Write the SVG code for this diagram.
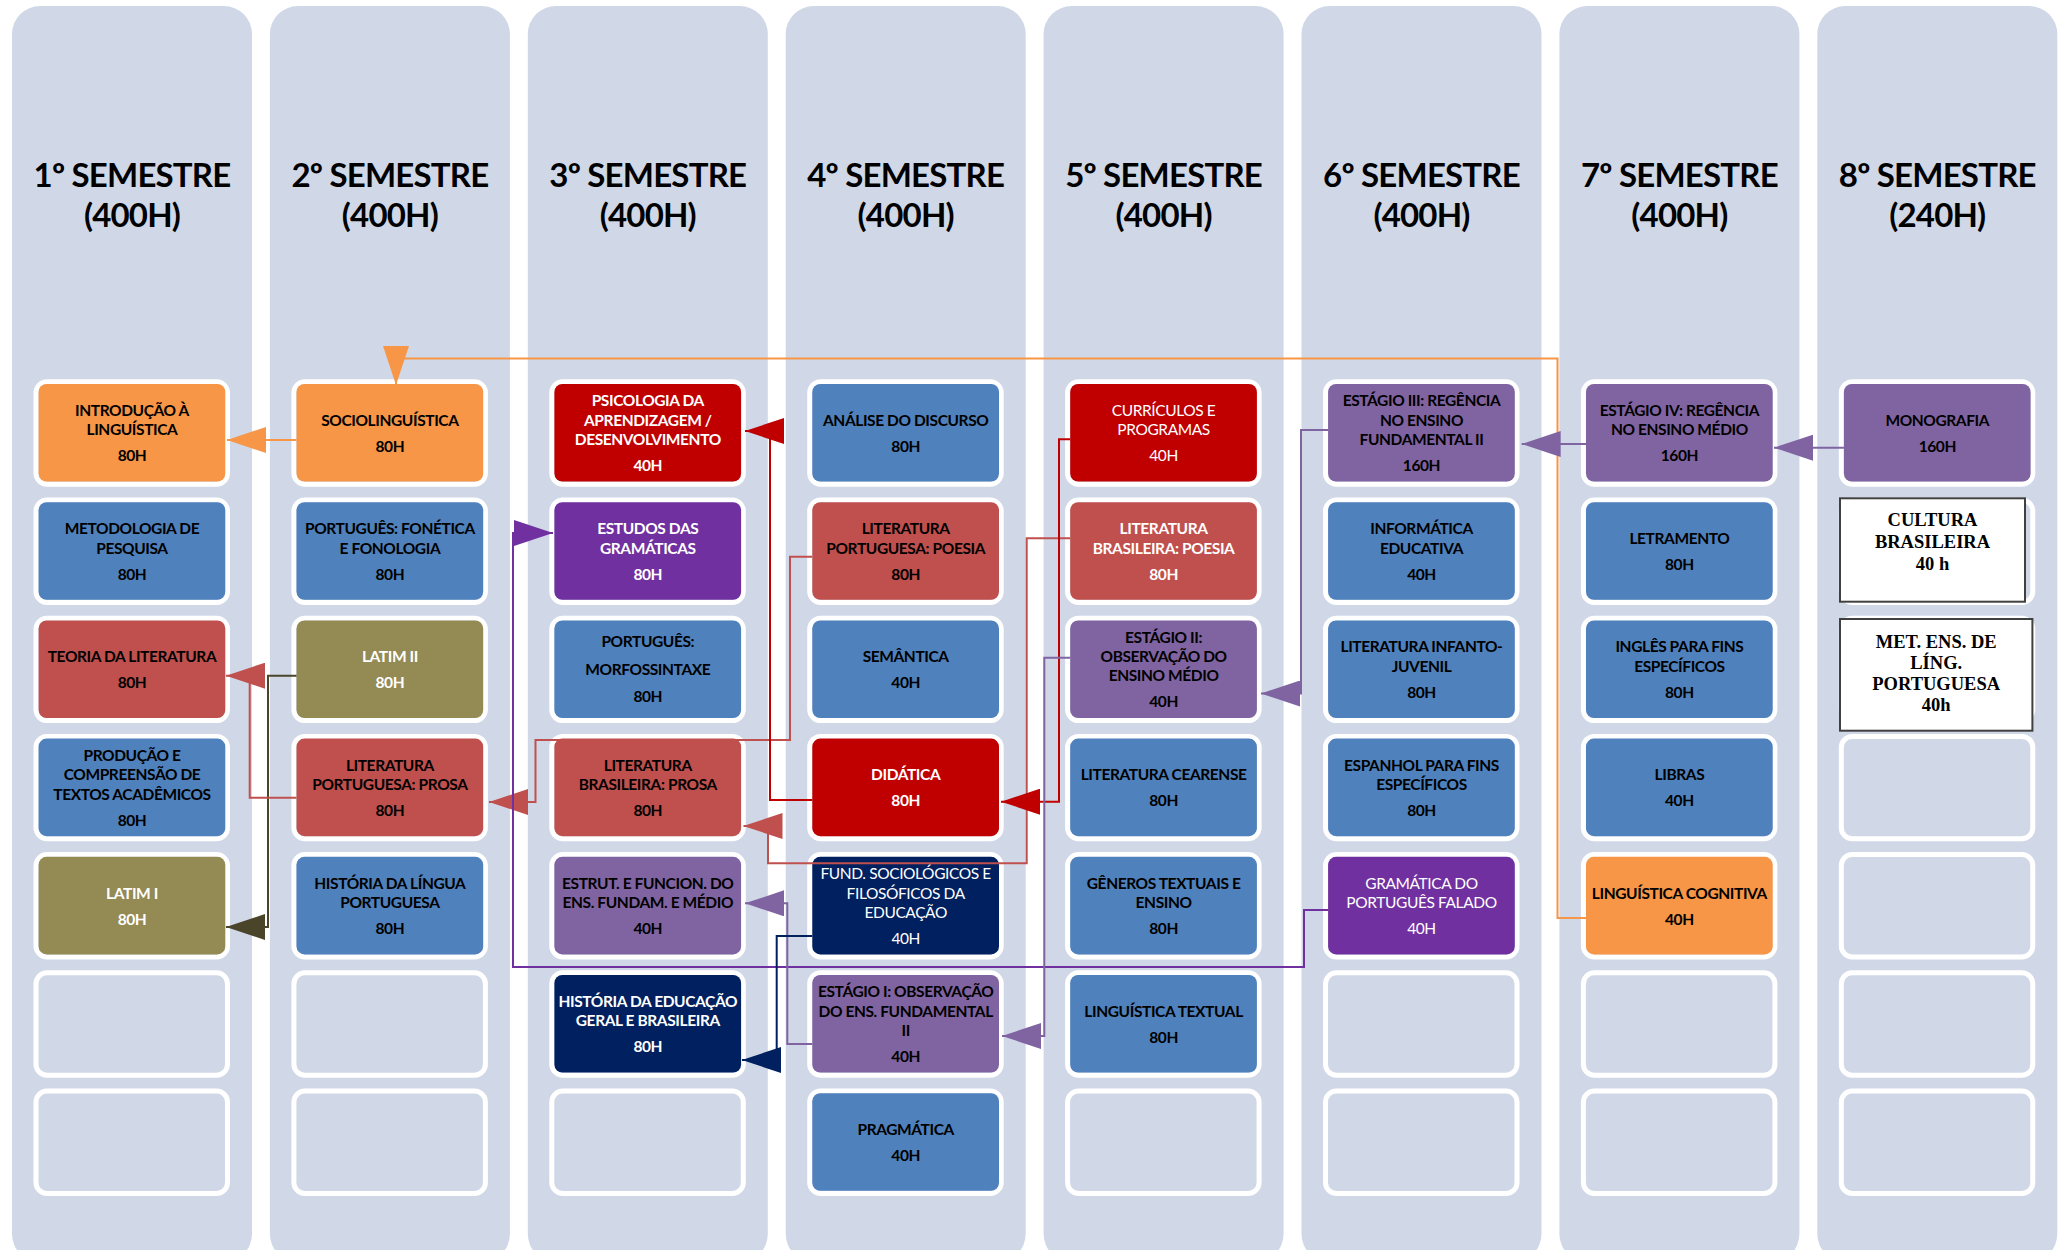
<svg xmlns="http://www.w3.org/2000/svg" width="2060" height="1250" viewBox="0 0 2060 1250">
<style>
.bgc{fill:#D0D8E8}
.fr{fill:none;stroke:#FFFFFF;stroke-width:5}
.hdr{font-family:Lato,"Liberation Sans",sans-serif;font-weight:700;font-size:33px;letter-spacing:-0.8px;text-anchor:middle;fill:#000}
.t{font-family:Lato,"Liberation Sans",sans-serif;font-weight:700;font-size:15.5px;letter-spacing:-0.4px;text-anchor:middle;fill:#000}
.w{fill:#FFFFFF}
.reg{font-weight:400}
.sf{font-family:"Liberation Serif","Times New Roman",serif;font-weight:700;font-size:18.5px;text-anchor:middle;fill:#000}
.or{fill:#F79646}.bl{fill:#4F81BD}.rd{fill:#C0504D}.ol{fill:#948A54}.dr{fill:#C00000}.pu{fill:#7030A0}.lv{fill:#8064A2}.nv{fill:#002060}
.wb{fill:#FFFFFF;stroke:#404040;stroke-width:2}
.c{fill:none;stroke-width:2}
</style>
<defs>
<marker id="a-or" markerUnits="userSpaceOnUse" markerWidth="39" markerHeight="26" viewBox="0 0 39 26" refX="39" refY="13" orient="auto"><path d="M0,0 L39,13 L0,26 z" fill="#F79646"/></marker>
<marker id="a-ol" markerUnits="userSpaceOnUse" markerWidth="39" markerHeight="26" viewBox="0 0 39 26" refX="39" refY="13" orient="auto"><path d="M0,0 L39,13 L0,26 z" fill="#4A452A"/></marker>
<marker id="a-rd" markerUnits="userSpaceOnUse" markerWidth="39" markerHeight="26" viewBox="0 0 39 26" refX="39" refY="13" orient="auto"><path d="M0,0 L39,13 L0,26 z" fill="#C0504D"/></marker>
<marker id="a-dr" markerUnits="userSpaceOnUse" markerWidth="39" markerHeight="26" viewBox="0 0 39 26" refX="39" refY="13" orient="auto"><path d="M0,0 L39,13 L0,26 z" fill="#C00000"/></marker>
<marker id="a-pu" markerUnits="userSpaceOnUse" markerWidth="39" markerHeight="26" viewBox="0 0 39 26" refX="39" refY="13" orient="auto"><path d="M0,0 L39,13 L0,26 z" fill="#7030A0"/></marker>
<marker id="a-lv" markerUnits="userSpaceOnUse" markerWidth="39" markerHeight="26" viewBox="0 0 39 26" refX="39" refY="13" orient="auto"><path d="M0,0 L39,13 L0,26 z" fill="#8064A2"/></marker>
<marker id="a-nv" markerUnits="userSpaceOnUse" markerWidth="39" markerHeight="26" viewBox="0 0 39 26" refX="39" refY="13" orient="auto"><path d="M0,0 L39,13 L0,26 z" fill="#002060"/></marker>
</defs>
<rect width="2060" height="1250" fill="#FFFFFF"/>

<g id="columns">
<g id="col1"><rect class="bgc" x="12" y="6" width="240" height="1256" rx="28"/><text class="hdr"><tspan x="132" y="186.7">1º SEMESTRE</tspan><tspan x="132" y="226.7">(400H)</tspan></text></g>
<g id="col2"><rect class="bgc" x="269.9" y="6" width="240" height="1256" rx="28"/><text class="hdr"><tspan x="389.9" y="186.7">2º SEMESTRE</tspan><tspan x="389.9" y="226.7">(400H)</tspan></text></g>
<g id="col3"><rect class="bgc" x="527.8" y="6" width="240" height="1256" rx="28"/><text class="hdr"><tspan x="647.8" y="186.7">3º SEMESTRE</tspan><tspan x="647.8" y="226.7">(400H)</tspan></text></g>
<g id="col4"><rect class="bgc" x="785.7" y="6" width="240" height="1256" rx="28"/><text class="hdr"><tspan x="905.7" y="186.7">4º SEMESTRE</tspan><tspan x="905.7" y="226.7">(400H)</tspan></text></g>
<g id="col5"><rect class="bgc" x="1043.6" y="6" width="240" height="1256" rx="28"/><text class="hdr"><tspan x="1163.6" y="186.7">5º SEMESTRE</tspan><tspan x="1163.6" y="226.7">(400H)</tspan></text></g>
<g id="col6"><rect class="bgc" x="1301.5" y="6" width="240" height="1256" rx="28"/><text class="hdr"><tspan x="1421.5" y="186.7">6º SEMESTRE</tspan><tspan x="1421.5" y="226.7">(400H)</tspan></text></g>
<g id="col7"><rect class="bgc" x="1559.4" y="6" width="240" height="1256" rx="28"/><text class="hdr"><tspan x="1679.4" y="186.7">7º SEMESTRE</tspan><tspan x="1679.4" y="226.7">(400H)</tspan></text></g>
<g id="col8"><rect class="bgc" x="1817.3" y="6" width="240" height="1256" rx="28"/><text class="hdr"><tspan x="1937.3" y="186.7">8º SEMESTRE</tspan><tspan x="1937.3" y="226.7">(240H)</tspan></text></g>
</g>

<g id="slots">
<g id="slots-c1"><rect class="fr" x="36" y="381.8" width="191.5" height="102.4" rx="11"/><rect class="fr" x="36" y="500" width="191.5" height="102.4" rx="11"/><rect class="fr" x="36" y="618.2" width="191.5" height="102.4" rx="11"/><rect class="fr" x="36" y="736.4" width="191.5" height="102.4" rx="11"/><rect class="fr" x="36" y="854.6" width="191.5" height="102.4" rx="11"/><rect class="fr" x="36" y="972.8" width="191.5" height="102.4" rx="11"/><rect class="fr" x="36" y="1091" width="191.5" height="102.4" rx="11"/></g>
<g id="slots-c2"><rect class="fr" x="293.9" y="381.8" width="191.5" height="102.4" rx="11"/><rect class="fr" x="293.9" y="500" width="191.5" height="102.4" rx="11"/><rect class="fr" x="293.9" y="618.2" width="191.5" height="102.4" rx="11"/><rect class="fr" x="293.9" y="736.4" width="191.5" height="102.4" rx="11"/><rect class="fr" x="293.9" y="854.6" width="191.5" height="102.4" rx="11"/><rect class="fr" x="293.9" y="972.8" width="191.5" height="102.4" rx="11"/><rect class="fr" x="293.9" y="1091" width="191.5" height="102.4" rx="11"/></g>
<g id="slots-c3"><rect class="fr" x="551.8" y="381.8" width="191.5" height="102.4" rx="11"/><rect class="fr" x="551.8" y="500" width="191.5" height="102.4" rx="11"/><rect class="fr" x="551.8" y="618.2" width="191.5" height="102.4" rx="11"/><rect class="fr" x="551.8" y="736.4" width="191.5" height="102.4" rx="11"/><rect class="fr" x="551.8" y="854.6" width="191.5" height="102.4" rx="11"/><rect class="fr" x="551.8" y="972.8" width="191.5" height="102.4" rx="11"/><rect class="fr" x="551.8" y="1091" width="191.5" height="102.4" rx="11"/></g>
<g id="slots-c4"><rect class="fr" x="809.7" y="381.8" width="191.5" height="102.4" rx="11"/><rect class="fr" x="809.7" y="500" width="191.5" height="102.4" rx="11"/><rect class="fr" x="809.7" y="618.2" width="191.5" height="102.4" rx="11"/><rect class="fr" x="809.7" y="736.4" width="191.5" height="102.4" rx="11"/><rect class="fr" x="809.7" y="854.6" width="191.5" height="102.4" rx="11"/><rect class="fr" x="809.7" y="972.8" width="191.5" height="102.4" rx="11"/><rect class="fr" x="809.7" y="1091" width="191.5" height="102.4" rx="11"/></g>
<g id="slots-c5"><rect class="fr" x="1067.6" y="381.8" width="191.5" height="102.4" rx="11"/><rect class="fr" x="1067.6" y="500" width="191.5" height="102.4" rx="11"/><rect class="fr" x="1067.6" y="618.2" width="191.5" height="102.4" rx="11"/><rect class="fr" x="1067.6" y="736.4" width="191.5" height="102.4" rx="11"/><rect class="fr" x="1067.6" y="854.6" width="191.5" height="102.4" rx="11"/><rect class="fr" x="1067.6" y="972.8" width="191.5" height="102.4" rx="11"/><rect class="fr" x="1067.6" y="1091" width="191.5" height="102.4" rx="11"/></g>
<g id="slots-c6"><rect class="fr" x="1325.5" y="381.8" width="191.5" height="102.4" rx="11"/><rect class="fr" x="1325.5" y="500" width="191.5" height="102.4" rx="11"/><rect class="fr" x="1325.5" y="618.2" width="191.5" height="102.4" rx="11"/><rect class="fr" x="1325.5" y="736.4" width="191.5" height="102.4" rx="11"/><rect class="fr" x="1325.5" y="854.6" width="191.5" height="102.4" rx="11"/><rect class="fr" x="1325.5" y="972.8" width="191.5" height="102.4" rx="11"/><rect class="fr" x="1325.5" y="1091" width="191.5" height="102.4" rx="11"/></g>
<g id="slots-c7"><rect class="fr" x="1583.4" y="381.8" width="191.5" height="102.4" rx="11"/><rect class="fr" x="1583.4" y="500" width="191.5" height="102.4" rx="11"/><rect class="fr" x="1583.4" y="618.2" width="191.5" height="102.4" rx="11"/><rect class="fr" x="1583.4" y="736.4" width="191.5" height="102.4" rx="11"/><rect class="fr" x="1583.4" y="854.6" width="191.5" height="102.4" rx="11"/><rect class="fr" x="1583.4" y="972.8" width="191.5" height="102.4" rx="11"/><rect class="fr" x="1583.4" y="1091" width="191.5" height="102.4" rx="11"/></g>
<g id="slots-c8"><rect class="fr" x="1841.3" y="381.8" width="191.5" height="102.4" rx="11"/><rect class="fr" x="1841.3" y="500" width="191.5" height="102.4" rx="11"/><rect class="fr" x="1841.3" y="618.2" width="191.5" height="102.4" rx="11"/><rect class="fr" x="1841.3" y="736.4" width="191.5" height="102.4" rx="11"/><rect class="fr" x="1841.3" y="854.6" width="191.5" height="102.4" rx="11"/><rect class="fr" x="1841.3" y="972.8" width="191.5" height="102.4" rx="11"/><rect class="fr" x="1841.3" y="1091" width="191.5" height="102.4" rx="11"/></g>
</g>

<g id="nodes">
<!-- col 1 -->
<g id="n-intro"><rect class="or" x="38.6" y="384" width="186.7" height="97.6" rx="8"/><text class="t"><tspan x="132" y="416">INTRODUÇÃO À</tspan><tspan x="132" y="435.3">LINGUÍSTICA</tspan><tspan x="132" y="461.3">80H</tspan></text></g>
<g id="n-metodologia"><rect class="bl" x="38.6" y="502.2" width="186.7" height="97.6" rx="8"/><text class="t"><tspan x="132" y="534.2">METODOLOGIA DE</tspan><tspan x="132" y="553.5">PESQUISA</tspan><tspan x="132" y="579.5">80H</tspan></text></g>
<g id="n-teoria"><rect class="rd" x="38.6" y="620.4" width="186.7" height="97.6" rx="8"/><text class="t"><tspan x="132" y="662.1">TEORIA DA LITERATURA</tspan><tspan x="132" y="688.1">80H</tspan></text></g>
<g id="n-producao"><rect class="bl" x="38.6" y="738.6" width="186.7" height="97.6" rx="8"/><text class="t"><tspan x="132" y="761">PRODUÇÃO E</tspan><tspan x="132" y="780.3">COMPREENSÃO DE</tspan><tspan x="132" y="799.6">TEXTOS ACADÊMICOS</tspan><tspan x="132" y="825.6">80H</tspan></text></g>
<g id="n-latim1"><rect class="ol" x="38.6" y="856.8" width="186.7" height="97.6" rx="8"/><text class="t w"><tspan x="132" y="898.5">LATIM I</tspan><tspan x="132" y="924.5">80H</tspan></text></g>
<!-- col 2 -->
<g id="n-socio"><rect class="or" x="296.5" y="384" width="186.7" height="97.6" rx="8"/><text class="t"><tspan x="389.9" y="425.7">SOCIOLINGUÍSTICA</tspan><tspan x="389.9" y="451.7">80H</tspan></text></g>
<g id="n-fonetica"><rect class="bl" x="296.5" y="502.2" width="186.7" height="97.6" rx="8"/><text class="t"><tspan x="389.9" y="534.2">PORTUGUÊS: FONÉTICA</tspan><tspan x="389.9" y="553.5">E FONOLOGIA</tspan><tspan x="389.9" y="579.5">80H</tspan></text></g>
<g id="n-latim2"><rect class="ol" x="296.5" y="620.4" width="186.7" height="97.6" rx="8"/><text class="t w"><tspan x="389.9" y="662.1">LATIM II</tspan><tspan x="389.9" y="688.1">80H</tspan></text></g>
<g id="n-litportprosa"><rect class="rd" x="296.5" y="738.6" width="186.7" height="97.6" rx="8"/><text class="t"><tspan x="389.9" y="770.6">LITERATURA</tspan><tspan x="389.9" y="789.9">PORTUGUESA: PROSA</tspan><tspan x="389.9" y="815.9">80H</tspan></text></g>
<g id="n-histlingua"><rect class="bl" x="296.5" y="856.8" width="186.7" height="97.6" rx="8"/><text class="t"><tspan x="389.9" y="888.8">HISTÓRIA DA LÍNGUA</tspan><tspan x="389.9" y="908.1">PORTUGUESA</tspan><tspan x="389.9" y="934.1">80H</tspan></text></g>
<!-- col 3 -->
<g id="n-psicologia"><rect class="dr" x="554.4" y="384" width="186.7" height="97.6" rx="8"/><text class="t w"><tspan x="647.8" y="406.4">PSICOLOGIA DA</tspan><tspan x="647.8" y="425.7">APRENDIZAGEM /</tspan><tspan x="647.8" y="445">DESENVOLVIMENTO</tspan><tspan x="647.8" y="471">40H</tspan></text></g>
<g id="n-estudos"><rect class="pu" x="554.4" y="502.2" width="186.7" height="97.6" rx="8"/><text class="t w"><tspan x="647.8" y="534.2">ESTUDOS DAS</tspan><tspan x="647.8" y="553.5">GRAMÁTICAS</tspan><tspan x="647.8" y="579.5">80H</tspan></text></g>
<g id="n-morfo"><rect class="bl" x="554.4" y="620.4" width="186.7" height="97.6" rx="8"/><text class="t"><tspan x="647.8" y="647">PORTUGUÊS:</tspan><tspan x="647.8" y="675">MORFOSSINTAXE</tspan><tspan x="647.8" y="701.7">80H</tspan></text></g>
<g id="n-litbrasprosa"><rect class="rd" x="554.4" y="738.6" width="186.7" height="97.6" rx="8"/><text class="t"><tspan x="647.8" y="770.6">LITERATURA</tspan><tspan x="647.8" y="789.9">BRASILEIRA: PROSA</tspan><tspan x="647.8" y="815.9">80H</tspan></text></g>
<g id="n-estrut"><rect class="lv" x="554.4" y="856.8" width="186.7" height="97.6" rx="8"/><text class="t"><tspan x="647.8" y="888.8">ESTRUT. E FUNCION. DO</tspan><tspan x="647.8" y="908.1">ENS. FUNDAM. E MÉDIO</tspan><tspan x="647.8" y="934.1">40H</tspan></text></g>
<g id="n-histedu"><rect class="nv" x="554.4" y="975" width="186.7" height="97.6" rx="8"/><text class="t w"><tspan x="647.8" y="1007">HISTÓRIA DA EDUCAÇÃO</tspan><tspan x="647.8" y="1026.3">GERAL E BRASILEIRA</tspan><tspan x="647.8" y="1052.3">80H</tspan></text></g>
<!-- col 4 -->
<g id="n-analise"><rect class="bl" x="812.3" y="384" width="186.7" height="97.6" rx="8"/><text class="t"><tspan x="905.7" y="425.7">ANÁLISE DO DISCURSO</tspan><tspan x="905.7" y="451.7">80H</tspan></text></g>
<g id="n-litportpoesia"><rect class="rd" x="812.3" y="502.2" width="186.7" height="97.6" rx="8"/><text class="t"><tspan x="905.7" y="534.2">LITERATURA</tspan><tspan x="905.7" y="553.5">PORTUGUESA: POESIA</tspan><tspan x="905.7" y="579.5">80H</tspan></text></g>
<g id="n-semantica"><rect class="bl" x="812.3" y="620.4" width="186.7" height="97.6" rx="8"/><text class="t"><tspan x="905.7" y="662.1">SEMÂNTICA</tspan><tspan x="905.7" y="688.1">40H</tspan></text></g>
<g id="n-didatica"><rect class="dr" x="812.3" y="738.6" width="186.7" height="97.6" rx="8"/><text class="t w"><tspan x="905.7" y="780.3">DIDÁTICA</tspan><tspan x="905.7" y="806.3">80H</tspan></text></g>
<g id="n-fund"><rect class="nv" x="812.3" y="856.8" width="186.7" height="97.6" rx="8"/><text class="t w reg"><tspan x="905.7" y="879.2">FUND. SOCIOLÓGICOS E</tspan><tspan x="905.7" y="898.5">FILOSÓFICOS DA</tspan><tspan x="905.7" y="917.8">EDUCAÇÃO</tspan><tspan x="905.7" y="943.8">40H</tspan></text></g>
<g id="n-estagio1"><rect class="lv" x="812.3" y="975" width="186.7" height="97.6" rx="8"/><text class="t"><tspan x="905.7" y="997.4">ESTÁGIO I: OBSERVAÇÃO</tspan><tspan x="905.7" y="1016.7">DO ENS. FUNDAMENTAL</tspan><tspan x="905.7" y="1036">II</tspan><tspan x="905.7" y="1062">40H</tspan></text></g>
<g id="n-pragmatica"><rect class="bl" x="812.3" y="1093.2" width="186.7" height="97.6" rx="8"/><text class="t"><tspan x="905.7" y="1134.9">PRAGMÁTICA</tspan><tspan x="905.7" y="1160.9">40H</tspan></text></g>
<!-- col 5 -->
<g id="n-curriculos"><rect class="dr" x="1070.2" y="384" width="186.7" height="97.6" rx="8"/><text class="t w reg"><tspan x="1163.6" y="416">CURRÍCULOS E</tspan><tspan x="1163.6" y="435.3">PROGRAMAS</tspan><tspan x="1163.6" y="461.3">40H</tspan></text></g>
<g id="n-litbraspoesia"><rect class="rd" x="1070.2" y="502.2" width="186.7" height="97.6" rx="8"/><text class="t w"><tspan x="1163.6" y="534.2">LITERATURA</tspan><tspan x="1163.6" y="553.5">BRASILEIRA: POESIA</tspan><tspan x="1163.6" y="579.5">80H</tspan></text></g>
<g id="n-estagio2"><rect class="lv" x="1070.2" y="620.4" width="186.7" height="97.6" rx="8"/><text class="t"><tspan x="1163.6" y="642.8">ESTÁGIO II:</tspan><tspan x="1163.6" y="662.1">OBSERVAÇÃO DO</tspan><tspan x="1163.6" y="681.4">ENSINO MÉDIO</tspan><tspan x="1163.6" y="707.4">40H</tspan></text></g>
<g id="n-cearense"><rect class="bl" x="1070.2" y="738.6" width="186.7" height="97.6" rx="8"/><text class="t"><tspan x="1163.6" y="780.3">LITERATURA CEARENSE</tspan><tspan x="1163.6" y="806.3">80H</tspan></text></g>
<g id="n-generos"><rect class="bl" x="1070.2" y="856.8" width="186.7" height="97.6" rx="8"/><text class="t"><tspan x="1163.6" y="888.8">GÊNEROS TEXTUAIS E</tspan><tspan x="1163.6" y="908.1">ENSINO</tspan><tspan x="1163.6" y="934.1">80H</tspan></text></g>
<g id="n-lingtextual"><rect class="bl" x="1070.2" y="975" width="186.7" height="97.6" rx="8"/><text class="t"><tspan x="1163.6" y="1016.7">LINGUÍSTICA TEXTUAL</tspan><tspan x="1163.6" y="1042.7">80H</tspan></text></g>
<!-- col 6 -->
<g id="n-estagio3"><rect class="lv" x="1328.1" y="384" width="186.7" height="97.6" rx="8"/><text class="t"><tspan x="1421.5" y="406.4">ESTÁGIO III: REGÊNCIA</tspan><tspan x="1421.5" y="425.7">NO ENSINO</tspan><tspan x="1421.5" y="445">FUNDAMENTAL II</tspan><tspan x="1421.5" y="471">160H</tspan></text></g>
<g id="n-informatica"><rect class="bl" x="1328.1" y="502.2" width="186.7" height="97.6" rx="8"/><text class="t"><tspan x="1421.5" y="534.2">INFORMÁTICA</tspan><tspan x="1421.5" y="553.5">EDUCATIVA</tspan><tspan x="1421.5" y="579.5">40H</tspan></text></g>
<g id="n-infanto"><rect class="bl" x="1328.1" y="620.4" width="186.7" height="97.6" rx="8"/><text class="t"><tspan x="1421.5" y="652.4">LITERATURA INFANTO-</tspan><tspan x="1421.5" y="671.7">JUVENIL</tspan><tspan x="1421.5" y="697.7">80H</tspan></text></g>
<g id="n-espanhol"><rect class="bl" x="1328.1" y="738.6" width="186.7" height="97.6" rx="8"/><text class="t"><tspan x="1421.5" y="770.6">ESPANHOL PARA FINS</tspan><tspan x="1421.5" y="789.9">ESPECÍFICOS</tspan><tspan x="1421.5" y="815.9">80H</tspan></text></g>
<g id="n-gramfalado"><rect class="pu" x="1328.1" y="856.8" width="186.7" height="97.6" rx="8"/><text class="t w reg"><tspan x="1421.5" y="888.8">GRAMÁTICA DO</tspan><tspan x="1421.5" y="908.1">PORTUGUÊS FALADO</tspan><tspan x="1421.5" y="934.1">40H</tspan></text></g>
<!-- col 7 -->
<g id="n-estagio4"><rect class="lv" x="1586" y="384" width="186.7" height="97.6" rx="8"/><text class="t"><tspan x="1679.4" y="416">ESTÁGIO IV: REGÊNCIA</tspan><tspan x="1679.4" y="435.3">NO ENSINO MÉDIO</tspan><tspan x="1679.4" y="461.3">160H</tspan></text></g>
<g id="n-letramento"><rect class="bl" x="1586" y="502.2" width="186.7" height="97.6" rx="8"/><text class="t"><tspan x="1679.4" y="543.9">LETRAMENTO</tspan><tspan x="1679.4" y="569.9">80H</tspan></text></g>
<g id="n-ingles"><rect class="bl" x="1586" y="620.4" width="186.7" height="97.6" rx="8"/><text class="t"><tspan x="1679.4" y="652.4">INGLÊS PARA FINS</tspan><tspan x="1679.4" y="671.7">ESPECÍFICOS</tspan><tspan x="1679.4" y="697.7">80H</tspan></text></g>
<g id="n-libras"><rect class="bl" x="1586" y="738.6" width="186.7" height="97.6" rx="8"/><text class="t"><tspan x="1679.4" y="780.3">LIBRAS</tspan><tspan x="1679.4" y="806.3">40H</tspan></text></g>
<g id="n-cognitiva"><rect class="or" x="1586" y="856.8" width="186.7" height="97.6" rx="8"/><text class="t"><tspan x="1679.4" y="898.5">LINGUÍSTICA COGNITIVA</tspan><tspan x="1679.4" y="924.5">40H</tspan></text></g>
<!-- col 8 -->
<g id="n-monografia"><rect class="lv" x="1843.9" y="384" width="186.7" height="97.6" rx="8"/><text class="t"><tspan x="1937.3" y="425.7">MONOGRAFIA</tspan><tspan x="1937.3" y="451.7">160H</tspan></text></g>
<g id="n-cultura"><rect class="wb" x="1840" y="498.3" width="185" height="103.4"/><text class="sf"><tspan x="1932.5" y="526">CULTURA</tspan><tspan x="1932.5" y="548">BRASILEIRA</tspan><tspan x="1932.5" y="569.5">40 h</tspan></text></g>
<g id="n-met"><rect class="wb" x="1840" y="619" width="192.4" height="111.7"/><text class="sf"><tspan x="1936.2" y="647.7">MET. ENS. DE</tspan><tspan x="1936.2" y="668.5">LÍNG.</tspan><tspan x="1936.2" y="690">PORTUGUESA</tspan><tspan x="1936.2" y="710.7">40h</tspan></text></g>
</g>

<g id="connectors">
<path class="c" stroke="#F79646" marker-end="url(#a-or)" d="M1586,918 H1557.5 V358.5 H396 V385"/>
<path class="c" stroke="#F79646" marker-end="url(#a-or)" d="M296.5,440 H227"/>
<path class="c" stroke="#4A452A" marker-end="url(#a-ol)" d="M296.5,675.7 H268 V927 H226"/>
<path class="c" stroke="#C0504D" marker-end="url(#a-rd)" d="M296.5,797.7 H249.7 V675.7 H226"/>
<path class="c" stroke="#C0504D" marker-end="url(#a-rd)" d="M812.3,556.7 H790 V740 H535.5 V802 H489"/>
<path class="c" stroke="#C0504D" marker-end="url(#a-rd)" d="M1070.2,538.3 H1026.7 V863.3 H768 V826 H743.5"/>
<path class="c" stroke="#C00000" marker-end="url(#a-dr)" d="M1070.2,439.3 H1059 V801.7 H1001"/>
<path class="c" stroke="#C00000" marker-end="url(#a-dr)" d="M812.3,800 H770 V431 H745"/>
<path class="c" stroke="#7030A0" marker-end="url(#a-pu)" d="M1328.1,910 H1304 V967 H513 V533 H553"/>
<path class="c" stroke="#8064A2" marker-end="url(#a-lv)" d="M812.3,1044 H787.3 V903.3 H745"/>
<path class="c" stroke="#002060" marker-end="url(#a-nv)" d="M812.3,936 H776.7 V1060 H742"/>
<path class="c" stroke="#8064A2" marker-end="url(#a-lv)" d="M1070.2,657.7 H1044.3 V1036 H1002"/>
<path class="c" stroke="#8064A2" marker-end="url(#a-lv)" d="M1328.1,430 H1301 V693.5 H1261"/>
<path class="c" stroke="#8064A2" marker-end="url(#a-lv)" d="M1586,444 H1521.7"/>
<path class="c" stroke="#8064A2" marker-end="url(#a-lv)" d="M1843.9,447.7 H1774"/>
</g>
</svg>
